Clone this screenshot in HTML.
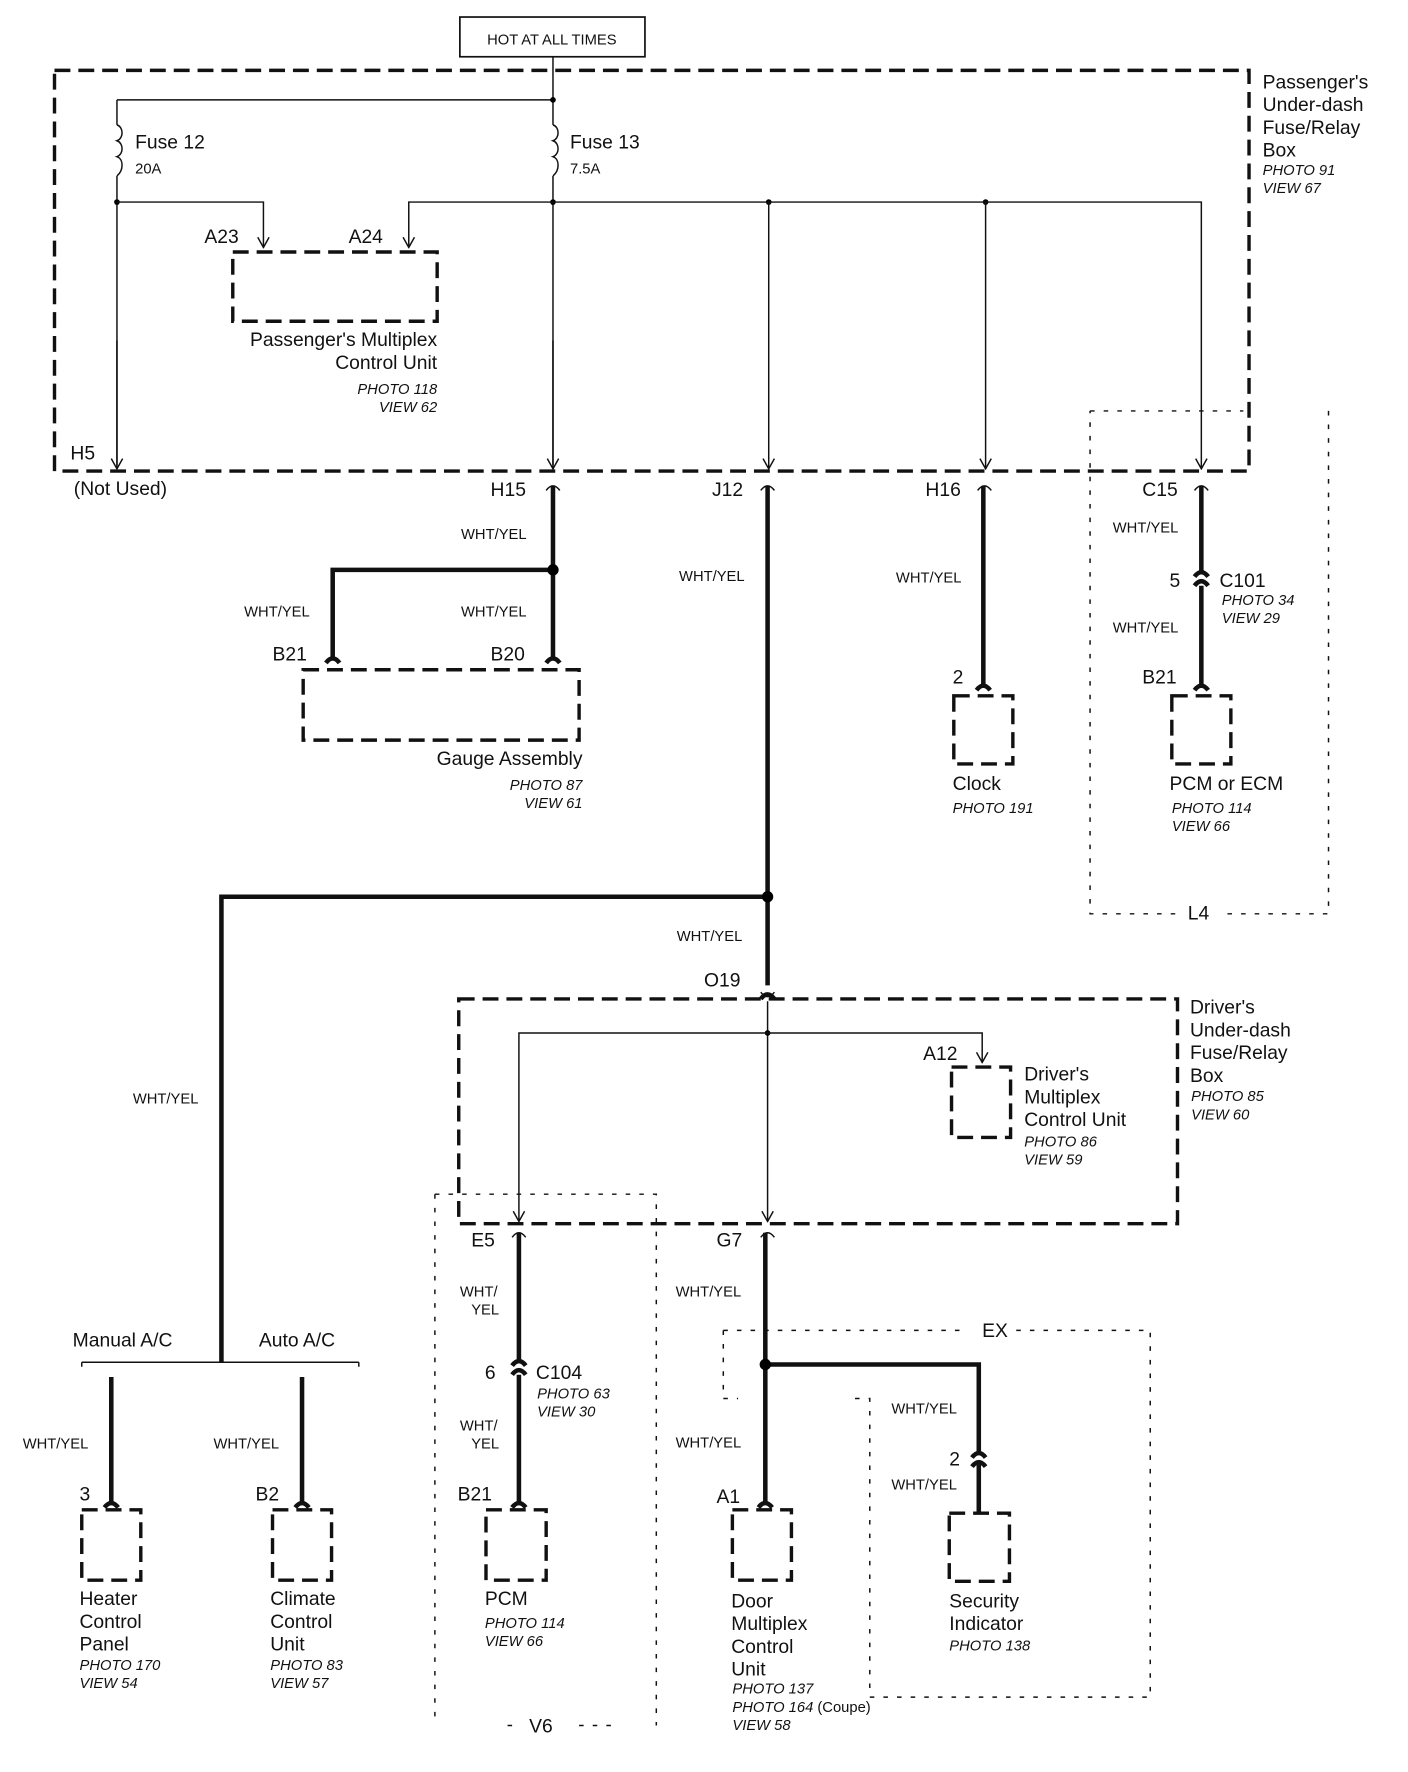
<!DOCTYPE html>
<html><head><meta charset="utf-8"><style>
html,body{margin:0;padding:0;background:#fff}
svg{display:block}
text{font-family:"Liberation Sans",sans-serif;fill:#111}
.l{font-size:17px}.s{font-size:13px}.i{font-size:13px;font-style:italic}
.thin{stroke:#111;stroke-width:1.3;fill:none}
.thk{stroke:#111;stroke-width:4;fill:none}
.db{stroke:#111;stroke-width:3;fill:none;stroke-dasharray:14 7}
.dot{stroke:#111;stroke-width:1.3;fill:none;stroke-dasharray:4 8}
</style></head><body>
<svg width="1408" height="1772" viewBox="0 0 1240 1561" preserveAspectRatio="none" xmlns="http://www.w3.org/2000/svg">
<defs>
<marker id="a" viewBox="0 0 12 12" refX="6" refY="11" markerWidth="12" markerHeight="12" orient="0" markerUnits="userSpaceOnUse"><path d="M1,2 L6,11 L11,2" stroke="#111" stroke-width="1.3" fill="none"/></marker>
</defs>
<rect x="405" y="15" width="163" height="35" fill="none" stroke="#111" stroke-width="1.5"/>
<text x="486" y="39" class="s" text-anchor="middle">HOT AT ALL TIMES</text>
<rect x="48" y="62" width="1052" height="353" class="db"/>
<text x="1112" y="78" class="l">Passenger's</text>
<text x="1112" y="98" class="l">Under-dash</text>
<text x="1112" y="118" class="l">Fuse/Relay</text>
<text x="1112" y="138" class="l">Box</text>
<text x="1112" y="154" class="i">PHOTO 91</text>
<text x="1112" y="170" class="i">VIEW 67</text>
<path class="thin" d="M487,50 V110 M487,155 V410 M103,88 H487 M103,88 V110 M103,155 V410"/>
<path class="thin" d="M103,110 c6,2 6,12 0,14 c6,2 6,12 0,14 c6,2 6,12 0,17"/>
<path class="thin" d="M487,110 c6,2 6,12 0,14 c6,2 6,12 0,14 c6,2 6,12 0,17"/>
<circle cx="487" cy="88" r="2.5"/><circle cx="103" cy="178" r="2.5"/><circle cx="487" cy="178" r="2.5"/>
<circle cx="677" cy="178" r="2.5"/><circle cx="868" cy="178" r="2.5"/>
<text x="119" y="131" class="l">Fuse 12</text><text x="119" y="153" class="s">20A</text>
<text x="502" y="131" class="l">Fuse 13</text><text x="502" y="153" class="s">7.5A</text>
<path class="thin" d="M103,178 H232 V218" marker-end="url(#a)"/>
<path class="thin" d="M487,178 H360 V218" marker-end="url(#a)"/>
<path class="thin" d="M487,178 H1058 V413" marker-end="url(#a)"/>
<path class="thin" d="M677,178 V413" marker-end="url(#a)"/>
<path class="thin" d="M868,178 V413" marker-end="url(#a)"/>
<path class="thin" d="M487,300 V413" marker-end="url(#a)"/>
<path class="thin" d="M103,300 V413" marker-end="url(#a)"/>
<text x="180" y="214" class="l">A23</text><text x="307" y="214" class="l">A24</text>
<rect x="205" y="222" width="180" height="61" class="db"/>
<text x="385" y="305" class="l" text-anchor="end">Passenger's Multiplex</text>
<text x="385" y="325" class="l" text-anchor="end">Control Unit</text>
<text x="385" y="347" class="i" text-anchor="end">PHOTO 118</text>
<text x="385" y="363" class="i" text-anchor="end">VIEW 62</text>
<text x="62" y="405" class="l">H5</text>
<text x="65" y="436" class="l">(Not Used)</text>
<text x="432" y="437" class="l">H15</text><text x="627" y="437" class="l">J12</text>
<text x="815" y="437" class="l">H16</text><text x="1006" y="437" class="l">C15</text>
<g class="thin">
<path d="M481,432 q6,-8 12,0"/><path d="M670,432 q6,-8 12,0"/><path d="M861,432 q6,-8 12,0"/><path d="M1052,432 q6,-8 12,0"/>
</g>
<path class="thk" d="M487,428 V582 M487,502 H293 V582"/>
<circle cx="487" cy="502" r="5"/>
<path class="thk" d="M287,584 q6,-8 12,0 M481,584 q6,-8 12,0" stroke-width="3"/>
<text x="406" y="475" class="s">WHT/YEL</text>
<text x="406" y="543" class="s">WHT/YEL</text>
<text x="215" y="543" class="s">WHT/YEL</text>
<text x="240" y="582" class="l">B21</text><text x="432" y="582" class="l">B20</text>
<rect x="267" y="590" width="243" height="62" class="db"/>
<text x="513" y="674" class="l" text-anchor="end">Gauge Assembly</text>
<text x="513" y="696" class="i" text-anchor="end">PHOTO 87</text>
<text x="513" y="712" class="i" text-anchor="end">VIEW 61</text>
<path class="thk" d="M676,428 V868 M676,790 H195 V1200"/>
<circle cx="676" cy="790" r="5"/>
<text x="598" y="512" class="s">WHT/YEL</text>
<text x="596" y="829" class="s">WHT/YEL</text>
<text x="117" y="972" class="s">WHT/YEL</text>
<path class="thk" d="M866,428 V606"/>
<path class="thk" d="M860,608 q6,-8 12,0" stroke-width="3"/>
<text x="789" y="513" class="s">WHT/YEL</text>
<text x="839" y="602" class="l">2</text>
<rect x="840" y="613" width="52" height="60" class="db"/>
<text x="839" y="696" class="l">Clock</text>
<text x="839" y="716" class="i">PHOTO 191</text>
<path class="thk" d="M1058,428 V506 M1058,516 V606"/>
<path class="thk" d="M1052,508 q6,-8 12,0 M1052,516 q6,-8 12,0 M1052,608 q6,-8 12,0" stroke-width="3"/>
<text x="980" y="469" class="s">WHT/YEL</text>
<text x="980" y="557" class="s">WHT/YEL</text>
<text x="1030" y="517" class="l">5</text>
<text x="1074" y="517" class="l">C101</text>
<text x="1076" y="533" class="i">PHOTO 34</text>
<text x="1076" y="549" class="i">VIEW 29</text>
<text x="1006" y="602" class="l">B21</text>
<rect x="1032" y="613" width="52" height="60" class="db"/>
<text x="1030" y="696" class="l">PCM or ECM</text>
<text x="1032" y="716" class="i">PHOTO 114</text>
<text x="1032" y="732" class="i">VIEW 66</text>
<path class="dot" d="M960,362 H1095 M1170,362 V805 H1078 M1035,805 H960 V362"/>
<text x="1046" y="810" class="l">L4</text>
<text x="620" y="869" class="l">O19</text>
<path class="thk" d="M670,880 q6,-8 12,0" stroke-width="3"/>
<path class="thin" d="M670,874 q6,8 12,0"/>
<rect x="404" y="880" width="633" height="198" class="db"/>
<text x="1048" y="893" class="l">Driver's</text>
<text x="1048" y="913" class="l">Under-dash</text>
<text x="1048" y="933" class="l">Fuse/Relay</text>
<text x="1048" y="953" class="l">Box</text>
<text x="1049" y="970" class="i">PHOTO 85</text>
<text x="1049" y="986" class="i">VIEW 60</text>
<path class="thin" d="M676,882 V1076" marker-end="url(#a)"/>
<circle cx="676" cy="910" r="2.5"/>
<path class="thin" d="M676,910 H457 V1076" marker-end="url(#a)"/>
<path class="thin" d="M676,910 H865 V936" marker-end="url(#a)"/>
<text x="813" y="934" class="l">A12</text>
<rect x="838" y="940" width="52" height="62" class="db"/>
<text x="902" y="952" class="l">Driver's</text>
<text x="902" y="972" class="l">Multiplex</text>
<text x="902" y="992" class="l">Control Unit</text>
<text x="902" y="1010" class="i">PHOTO 86</text>
<text x="902" y="1026" class="i">VIEW 59</text>
<text x="415" y="1098" class="l">E5</text><text x="631" y="1098" class="l">G7</text>
<path class="thin" d="M451,1090 q6,-8 12,0 M670,1090 q6,-8 12,0"/>
<path class="thk" d="M457,1086 V1200 M457,1211 V1326"/>
<path class="thk" d="M451,1203 q6,-8 12,0 M451,1211 q6,-8 12,0 M451,1328 q6,-8 12,0" stroke-width="3"/>
<text x="405" y="1142" class="s">WHT/</text><text x="415" y="1158" class="s">YEL</text>
<text x="405" y="1260" class="s">WHT/</text><text x="415" y="1276" class="s">YEL</text>
<text x="427" y="1215" class="l">6</text><text x="472" y="1215" class="l">C104</text>
<text x="473" y="1232" class="i">PHOTO 63</text><text x="473" y="1248" class="i">VIEW 30</text>
<text x="403" y="1322" class="l">B21</text>
<rect x="428" y="1330" width="53" height="62" class="db"/>
<text x="427" y="1414" class="l">PCM</text>
<text x="427" y="1434" class="i">PHOTO 114</text><text x="427" y="1450" class="i">VIEW 66</text>
<path class="dot" d="M383,1052 V1520 M383,1052 H578 V1520 M447,1520 H455 M510,1520 H540"/>
<text x="466" y="1526" class="l">V6</text>
<path class="thk" d="M674,1086 V1326 M674,1202 H862 V1282 M862,1290 V1333"/>
<circle cx="674" cy="1202" r="5"/>
<path class="thk" d="M668,1328 q6,-8 12,0 M856,1284 q6,-8 12,0 M856,1292 q6,-8 12,0" stroke-width="3"/>
<text x="595" y="1142" class="s">WHT/YEL</text>
<text x="595" y="1275" class="s">WHT/YEL</text>
<text x="785" y="1245" class="s">WHT/YEL</text>
<text x="785" y="1312" class="s">WHT/YEL</text>
<text x="836" y="1291" class="l">2</text>
<text x="631" y="1324" class="l">A1</text>
<rect x="645" y="1330" width="52" height="62" class="db"/>
<text x="644" y="1416" class="l">Door</text><text x="644" y="1436" class="l">Multiplex</text>
<text x="644" y="1456" class="l">Control</text><text x="644" y="1476" class="l">Unit</text>
<text x="645" y="1492" class="i">PHOTO 137</text>
<text x="645" y="1508" class="i">PHOTO 164 <tspan font-style="normal">(Coupe)</tspan></text>
<text x="645" y="1524" class="i">VIEW 58</text>
<rect x="836" y="1333" width="53" height="60" class="db"/>
<text x="836" y="1416" class="l">Security</text><text x="836" y="1436" class="l">Indicator</text>
<text x="836" y="1454" class="i">PHOTO 138</text>
<path class="dot" d="M637,1172 H845 M895,1172 H1013 V1495 H766 V1232 H750 M637,1172 V1232 H650"/>
<text x="865" y="1178" class="l">EX</text>
<path class="thin" d="M72,1200 H316 M72,1200 v4 M316,1200 v4"/>
<text x="64" y="1186" class="l">Manual A/C</text>
<text x="228" y="1186" class="l">Auto A/C</text>
<path class="thk" d="M98,1213 V1326 M266,1213 V1326"/>
<path class="thk" d="M92,1328 q6,-8 12,0 M260,1328 q6,-8 12,0" stroke-width="3"/>
<text x="20" y="1276" class="s">WHT/YEL</text>
<text x="188" y="1276" class="s">WHT/YEL</text>
<text x="70" y="1322" class="l">3</text><text x="225" y="1322" class="l">B2</text>
<rect x="72" y="1330" width="52" height="62" class="db"/>
<rect x="240" y="1330" width="52" height="62" class="db"/>
<text x="70" y="1414" class="l">Heater</text><text x="70" y="1434" class="l">Control</text><text x="70" y="1454" class="l">Panel</text>
<text x="70" y="1471" class="i">PHOTO 170</text><text x="70" y="1487" class="i">VIEW 54</text>
<text x="238" y="1414" class="l">Climate</text><text x="238" y="1434" class="l">Control</text><text x="238" y="1454" class="l">Unit</text>
<text x="238" y="1471" class="i">PHOTO 83</text><text x="238" y="1487" class="i">VIEW 57</text>
</svg>
</body></html>
